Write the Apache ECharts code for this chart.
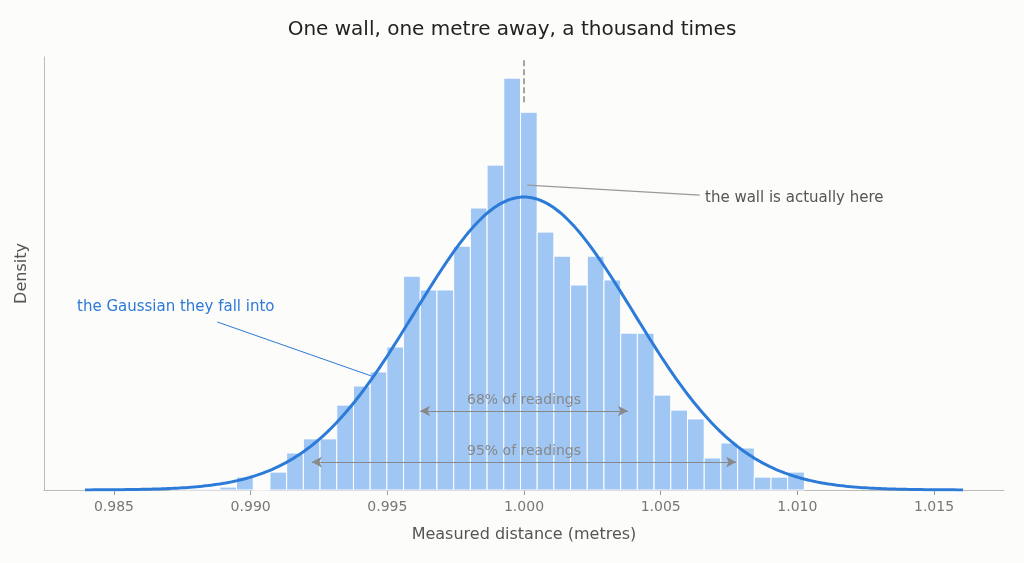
<!doctype html>
<html>
<head>
<meta charset="utf-8">
<script src="https://cdn.jsdelivr.net/npm/echarts@6/dist/echarts.min.js"></script>
<style>html,body{margin:0;background:#fcfcfa}#main{width:1024px;height:563px}</style>
</head>
<body>
<div id="main"></div>
<script>
// histogram: bin layout + density per bin
var binStart = 0.98704;
var binWidth = 0.000611;
var densities = [0.3, 0.3, 0.3, 1, 4.4, 0, 6.1, 12.6, 17.4, 17.4, 28.9, 35.4, 40.2, 48.7, 72.8, 68.1, 68.1, 83.0, 96.0, 110.6,
                 140.2, 128.6, 87.8, 79.6, 69.8, 79.6, 71.5, 53.4, 53.4, 32.3, 27.2, 24.2, 10.9, 16.0, 14.3, 4.4, 4.4, 6.1];
// fitted gaussian
var mu = 1.0;
var sigma = 0.004;
var curveFrom = 0.98394, curveTo = 1.01606;
var tickValues = [0.985, 0.990, 0.995, 1.000, 1.005, 1.010, 1.015];
var trueDistance = 1.0;

var bins = densities.map(function (d, i) { return [binStart + i * binWidth, binStart + (i + 1) * binWidth, d]; });
var curve = [];
for (var i = 0; i <= 300; i++) {
    var x = curveFrom + (curveTo - curveFrom) * i / 300;
    curve.push([x, Math.exp(-0.5 * Math.pow((x - mu) / sigma, 2)) / (sigma * Math.sqrt(2 * Math.PI))]);
}

var chart = echarts.init(document.getElementById('main'));
var grey = '#888';
chart.setOption({
    backgroundColor: '#fcfcfa',
    animation: false,
    title: {
        text: 'One wall, one metre away, a thousand times', left: 'center', top: 15,
        textStyle: {fontFamily: 'DejaVu Sans', fontSize: 20, fontWeight: 'normal', color: '#222'}
    },
    grid: {left: 44, right: 20, top: 57, bottom: 73},
    xAxis: {
        type: 'value', min: 0.98244, max: 1.01756,
        name: 'Measured distance (metres)', nameLocation: 'middle', nameGap: 37,
        nameTextStyle: {fontFamily: 'DejaVu Sans', fontSize: 16, color: '#555'},
        axisLine: {lineStyle: {color: '#bbb'}},
        axisTick: {customValues: tickValues, length: 5, lineStyle: {color: '#999'}},
        axisLabel: {customValues: tickValues, fontFamily: 'DejaVu Sans', fontSize: 14, color: '#777', margin: 10,
            formatter: function (v) { return v.toFixed(3); }},
        splitLine: {show: false}
    },
    yAxis: {
        type: 'value', min: 0, max: 147.4,
        name: 'Density', nameLocation: 'middle', nameGap: 14,
        nameTextStyle: {fontFamily: 'DejaVu Sans', fontSize: 16, color: '#555'},
        axisLine: {show: true, lineStyle: {color: '#bbb'}},
        axisTick: {show: false}, axisLabel: {show: false}, splitLine: {show: false}
    },
    graphic: [
        {type: 'text', left: 705, top: 191, style: {text: 'the wall is actually here', fill: '#555', font: '15px DejaVu Sans'}},
        {type: 'text', left: 77, top: 300, style: {text: 'the Gaussian they fall into', fill: '#2f7ad6', font: '15px DejaVu Sans'}}
    ],
    series: [
        {
            type: 'custom',
            data: bins,
            renderItem: function (params, api) {
                var p0 = api.coord([api.value(0), api.value(2)]);
                var p1 = api.coord([api.value(1), 0]);
                return {type: 'rect', shape: {x: p0[0], y: p0[1], width: p1[0] - p0[0], height: p1[1] - p0[1]},
                    style: {fill: '#a0c6f4', stroke: '#fff', lineWidth: 1}};
            },
            z: 1
        },
        {
            type: 'line', data: curve, showSymbol: false, smooth: false,
            lineStyle: {color: '#2c7bd9', width: 3}, z: 3,
            markLine: {
                silent: true, symbol: ['none', 'none'], label: {show: false},
                data: [
                    [{coord: [trueDistance, 146.3], lineStyle: {color: grey, type: 'dashed', width: 1.5}}, {coord: [trueDistance, 131]}],
                    [{coord: [1.00012, 103.8], lineStyle: {color: '#999', type: 'solid', width: 1.2}}, {coord: [1.00643, 100.4]}],
                    [{coord: [0.98878, 57.2], lineStyle: {color: '#2f7ad6', type: 'solid', width: 1}}, {coord: [0.99442, 38.8]}]
                ]
            }
        },
        {
            type: 'line', data: [], z: 4,
            markLine: {
                silent: true, symbol: ['arrow', 'arrow'], symbolSize: [8, 10],
                lineStyle: {color: grey, type: 'solid', width: 1.2},
                label: {position: 'middle', color: grey, fontFamily: 'DejaVu Sans', fontSize: 14, distance: 4},
                data: [
                    [{coord: [mu - 0.0038, 26.9], name: '68% of readings'}, {coord: [mu + 0.0038, 26.9]}],
                    [{coord: [mu - 0.00776, 9.5], name: '95% of readings'}, {coord: [mu + 0.00776, 9.5]}]
                ],
                label: {formatter: '{b}', position: 'middle', color: grey, fontFamily: 'DejaVu Sans', fontSize: 14, distance: 4}
            }
        }
    ]
});
</script>
</body>
</html>
